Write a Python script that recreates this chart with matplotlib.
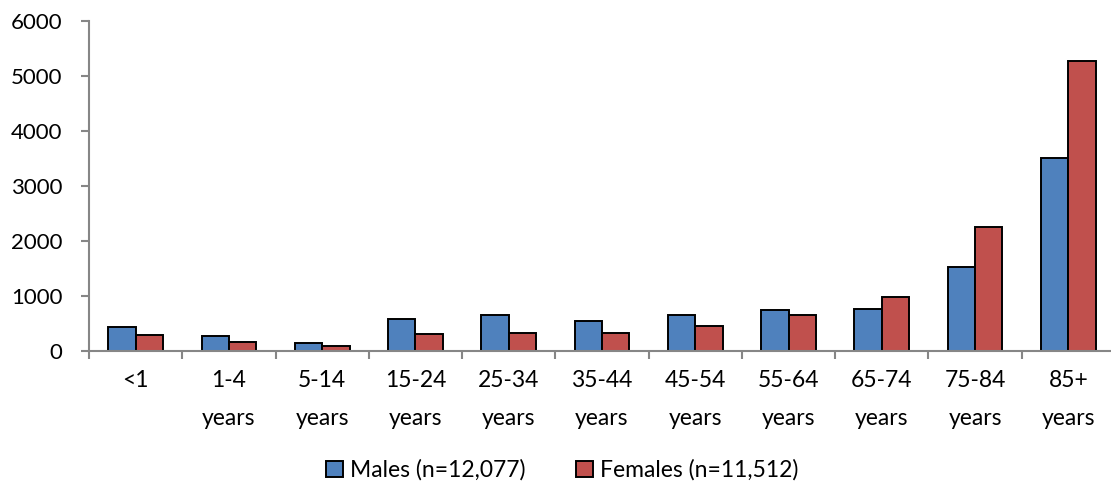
import matplotlib
matplotlib.use("Agg")
import matplotlib.pyplot as plt
import numpy as np

categories = ["<1", "1-4\nyears", "5-14\nyears", "15-24\nyears", "25-34\nyears",
              "35-44\nyears", "45-54\nyears", "55-64\nyears", "65-74\nyears",
              "75-84\nyears", "85+\nyears"]
males = [430, 265, 142, 573, 658, 553, 660, 740, 770, 1527, 3503]
females = [300, 160, 95, 313, 324, 320, 449, 649, 976, 2260, 5279]
yticks = [0, 1000, 2000, 3000, 4000, 5000, 6000]

plt.rcParams['font.family'] = ['Lato', 'DejaVu Sans']

fig = plt.figure(figsize=(11.11, 4.87), dpi=100)
ax = fig.add_axes([89/1111, 136/487, 1026/1111, 330/487])

x = np.arange(len(categories))
w = 0.293
ax.bar(x - w/2, males, w, color="#4F81BD", edgecolor="black", linewidth=1.4,
       label="Males (n=12,077)")
ax.bar(x + w/2, females, w, color="#C0504D", edgecolor="black", linewidth=1.4,
       label="Females (n=11,512)")

ax.set_xlim(-0.5, len(categories) - 0.5)
ax.set_ylim(0, 6000)
ax.set_yticks(yticks)
ax.set_yticklabels([str(v) for v in yticks])
ax.set_xticks(x)
ax.set_xticklabels(categories, linespacing=1.95)
ax.set_xticks(np.arange(len(categories) + 1) - 0.5, minor=True)

for s in ["top", "right"]:
    ax.spines[s].set_visible(False)
for s in ["left", "bottom"]:
    ax.spines[s].set_color("#868686")
    ax.spines[s].set_linewidth(1.5)

ax.tick_params(axis="y", length=6, width=1.5, color="#868686", pad=13, labelsize=16)
ax.tick_params(axis="x", which="major", length=0, pad=14, labelsize=16.5)
ax.tick_params(axis="x", which="minor", length=6, width=1.5, color="#868686")

fig.legend(loc="lower center", bbox_to_anchor=(0.506, -0.03), ncol=2, frameon=False,
           fontsize=16.5, handlelength=0.75, handleheight=0.75, handletextpad=0.3,
           columnspacing=2.2)

fig.savefig("out.png", dpi=100)
